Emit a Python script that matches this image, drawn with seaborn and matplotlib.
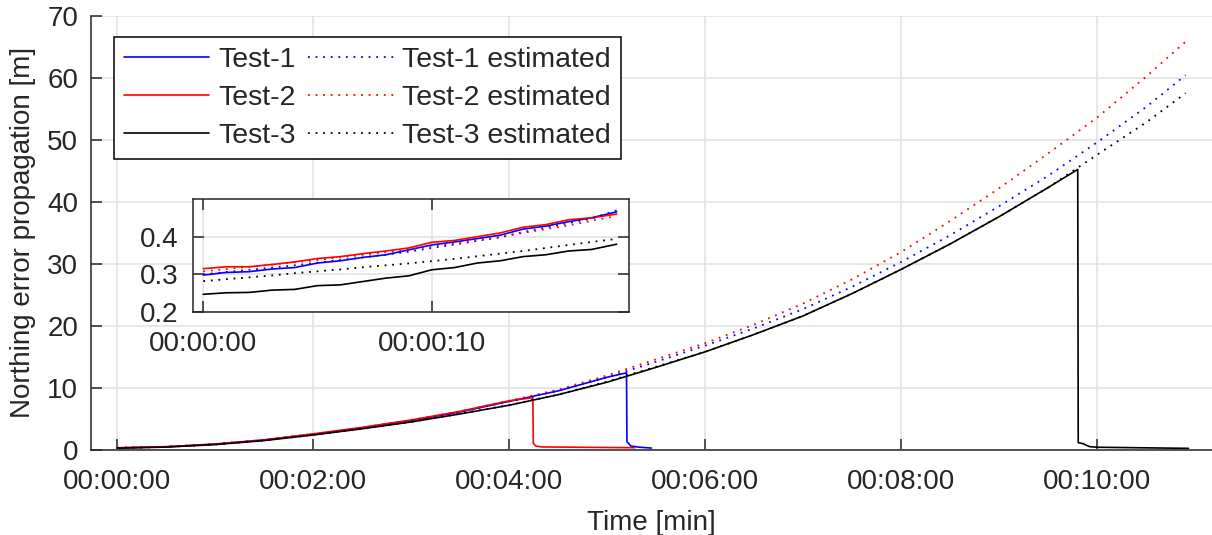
import numpy as np
import pandas as pd
import matplotlib
matplotlib.use("Agg")
import matplotlib.pyplot as plt
from matplotlib.ticker import FuncFormatter
import seaborn as sns

# ---- main plot data (time in minutes, error in metres) ----
t_est = [0, 0.5, 1, 1.5, 2, 2.5, 3, 3.5, 4, 4.5, 5, 5.5, 6, 6.5, 7, 7.5,
         8, 8.5, 9, 9.5, 10, 10.5, 10.9]
est1 = [0.30, 0.47, 0.90, 1.55, 2.50, 3.55, 4.70, 6.10, 7.80, 9.50, 11.7, 14.2,
        16.8, 19.6, 22.7, 26.3, 30.3, 34.6, 39.3, 44.2, 49.6, 55.3, 60.4]
est2 = [0.31, 0.48, 0.92, 1.60, 2.55, 3.60, 4.80, 6.20, 7.90, 9.70, 12.0, 14.6,
        17.2, 20.2, 23.6, 27.5, 31.9, 36.9, 42.2, 47.8, 53.6, 60.2, 65.8]
est3 = [0.28, 0.45, 0.85, 1.50, 2.40, 3.40, 4.50, 5.80, 7.20, 8.90, 11.0, 13.4,
        15.8, 18.6, 21.6, 25.2, 29.1, 33.2, 37.6, 42.3, 47.6, 52.8, 57.5]

t_run1 = [0, 0.5, 1, 1.5, 2, 2.5, 3, 3.5, 4, 4.5, 5, 5.196, 5.2, 5.24, 5.33, 5.45]
run1 = [0.30, 0.47, 0.90, 1.55, 2.50, 3.55, 4.70, 6.10, 7.80, 9.50, 11.7, 12.4,
        1.3, 0.6, 0.4, 0.27]
t_run2 = [0, 0.5, 1, 1.5, 2, 2.5, 3, 3.5, 4, 4.24, 4.245, 4.27, 4.33, 5.28]
run2 = [0.31, 0.48, 0.92, 1.60, 2.55, 3.60, 4.80, 6.20, 7.90, 8.40, 1.0, 0.6,
        0.45, 0.32]
t_run3 = [0, 0.5, 1, 1.5, 2, 2.5, 3, 3.5, 4, 4.5, 5, 5.5, 6, 6.5, 7, 7.5, 8,
          8.5, 9, 9.5, 9.80, 9.805, 9.85, 9.92, 10.0, 10.93]
run3 = [0.25, 0.43, 0.83, 1.48, 2.38, 3.38, 4.48, 5.78, 7.18, 8.88, 10.9, 13.3,
        15.8, 18.6, 21.6, 25.2, 29.1, 33.2, 37.6, 42.3, 45.2, 1.13, 1.0, 0.5,
        0.4, 0.22]

# ---- inset data (time in seconds) ----
t_zoom = [0, 1, 2, 3, 4, 5, 6, 7, 8, 9, 10, 11, 12, 13, 14, 15, 16, 17, 18.1]
zoom_run1 = [0.298, 0.305, 0.307, 0.314, 0.318, 0.330, 0.336, 0.345, 0.352, 0.365,
             0.378, 0.386, 0.395, 0.404, 0.420, 0.428, 0.440, 0.450, 0.466]
zoom_run2 = [0.315, 0.320, 0.320, 0.326, 0.333, 0.342, 0.347, 0.355, 0.362, 0.370,
             0.385, 0.390, 0.400, 0.410, 0.425, 0.432, 0.445, 0.450, 0.460]
zoom_run3 = [0.247, 0.251, 0.252, 0.258, 0.260, 0.270, 0.272, 0.281, 0.290, 0.296,
             0.312, 0.318, 0.330, 0.336, 0.347, 0.352, 0.362, 0.366, 0.380]
zoom_est1 = [0.300, 0.306, 0.312, 0.318, 0.324, 0.331, 0.338, 0.345, 0.352, 0.360,
             0.370, 0.379, 0.389, 0.398, 0.412, 0.424, 0.436, 0.448, 0.470]
zoom_est2 = [0.308, 0.314, 0.320, 0.326, 0.332, 0.338, 0.345, 0.352, 0.359, 0.366,
             0.374, 0.382, 0.391, 0.400, 0.410, 0.420, 0.430, 0.442, 0.455]
zoom_est3 = [0.282, 0.287, 0.292, 0.297, 0.303, 0.308, 0.313, 0.319, 0.324, 0.329,
             0.335, 0.341, 0.348, 0.355, 0.362, 0.370, 0.378, 0.386, 0.394]

labels = ["Test-1", "Test-2", "Test-3"]
colors = ["#0000ff", "#ff0000", "#000000"]
dots = (0, (1, 3.2))

sns.set_style("ticks")
plt.rcParams['font.family'] = ['Liberation Sans', 'DejaVu Sans']
plt.rcParams['xtick.direction'] = 'in'
plt.rcParams['ytick.direction'] = 'in'
plt.rcParams['axes.edgecolor'] = '#262626'
plt.rcParams['axes.linewidth'] = 1.1


def hms_min(v, pos):
    s = int(round(v * 60))
    return f"{s // 3600:02d}:{s % 3600 // 60:02d}:{s % 60:02d}"


def hms_sec(v, pos):
    s = int(round(v))
    return f"{s // 3600:02d}:{s % 3600 // 60:02d}:{s % 60:02d}"


fig = plt.figure(figsize=(12.12, 5.35), dpi=100)
ax = fig.add_axes([0.0748, 0.1594, 0.9252, 0.8113])

runs = [(t_run1, run1), (t_run2, run2), (t_run3, run3)]
ests = [est1, est2, est3]
for (tt, vv), c, lab in zip(runs, colors, labels):
    sns.lineplot(x=tt, y=vv, ax=ax, color=c, lw=1.2, label=lab, sort=False)
for vv, c, lab in zip(ests, colors, labels):
    sns.lineplot(x=t_est, y=vv, ax=ax, color=c, lw=1.3, linestyle=dots,
                 label=lab + " estimated", sort=False)

ax.set_xlim(-0.272, 11.17)
ax.set_ylim(0, 70)
ax.set_xticks([0, 2, 4, 6, 8, 10])
ax.set_yticks(range(0, 71, 10))
ax.xaxis.set_major_formatter(FuncFormatter(hms_min))
ax.grid(True, color='#e3e3e3', lw=1.2)
ax.set_axisbelow(True)
sns.despine(ax=ax)
ax.tick_params(axis='both', labelsize=20, length=8, width=1.1, colors='#262626')
ax.tick_params(axis='x', pad=14)
ax.tick_params(axis='y', pad=9)
ax.set_xlabel("Time [min]", fontsize=20, color='#262626', labelpad=11)
ax.set_ylabel("Northing error propagation [m]", fontsize=20, color='#262626',
              labelpad=8)

handles = ax.get_lines()[:6]
leg = ax.legend(handles=handles, labels=[h.get_label() for h in handles],
                ncol=2, loc='upper left', bbox_to_anchor=(114 / 1212, 1 - 36.7 / 535),
                bbox_transform=fig.transFigure, borderaxespad=0, fontsize=20.5,
                handlelength=3.0, handletextpad=0.3, columnspacing=0.45,
                labelspacing=0.42, borderpad=0.35, fancybox=False, framealpha=1,
                edgecolor='black')
leg.get_frame().set_linewidth(1.1)

# ---- inset ----
axin = fig.add_axes([192.7 / 1212, 1 - 312 / 535, (629 - 192.7) / 1212, 113 / 535])
zoom_runs = [zoom_run1, zoom_run2, zoom_run3]
zoom_ests = [zoom_est1, zoom_est2, zoom_est3]
for vv, c in zip(zoom_runs, colors):
    sns.lineplot(x=t_zoom, y=vv, ax=axin, color=c, lw=1.2, sort=False)
for vv, c in zip(zoom_ests, colors):
    sns.lineplot(x=t_zoom, y=vv, ax=axin, color=c, lw=1.3, linestyle=dots,
                 sort=False)
axin.set_xlim(-0.464, 18.64)
axin.set_ylim(0.2, 0.5)
axin.set_xticks([0, 10])
axin.set_yticks([0.2, 0.3, 0.4])
axin.xaxis.set_major_formatter(FuncFormatter(hms_sec))
axin.grid(True, color='#e3e3e3', lw=1.2)
axin.set_axisbelow(True)
axin.tick_params(axis='both', labelsize=20, length=8, width=1.1,
                 colors='#262626', top=True, right=True)
axin.tick_params(axis='x', pad=14)
axin.tick_params(axis='y', pad=10)
for s in axin.spines.values():
    s.set_linewidth(1.1)
    s.set_color('#262626')

fig.savefig("out.png", dpi=100)
